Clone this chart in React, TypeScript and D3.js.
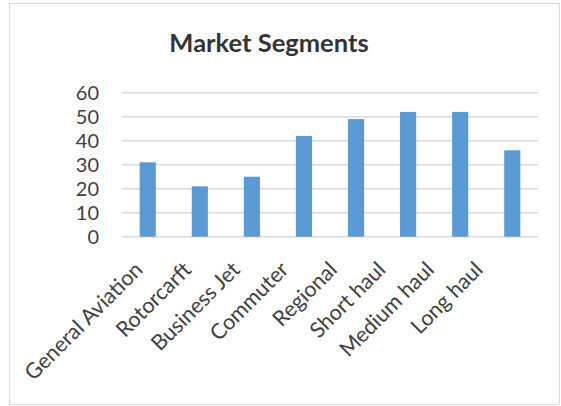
import React from "react";
import * as d3 from "d3";

const categories: string[] = [
  "General Aviation",
  "Rotorcarft",
  "Business Jet",
  "Commuter",
  "Regional",
  "Short haul",
  "Medium haul",
  "Long haul",
];
const values: number[] = [31, 21, 25, 42, 49, 52, 52, 36];
const yTicks: number[] = [0, 10, 20, 30, 40, 50, 60];
const title = "Market Segments";

const W = 561;
const H = 406;
const plot = { left: 121.7, right: 538.3, top: 92.7, bottom: 236.7 };
const FONT = "Lato, 'Open Sans', sans-serif";

export default function App() {
  const x = d3
    .scaleBand<string>()
    .domain(categories)
    .range([plot.left, plot.right])
    .paddingInner(0.69)
    .paddingOuter(0.345);
  const y = d3.scaleLinear().domain([0, 60]).range([plot.bottom, plot.top]);
  const labelX = d3.scalePoint<string>().domain(categories).range([142, 482]);

  return (
    <svg
      width={W}
      height={H}
      style={{ position: "fixed", left: 0, top: 0, background: "#fff" }}
      fontFamily={FONT}
    >
      <rect x={9.5} y={3.5} width={550} height={401} fill="#fff" stroke="#D9D9D9" strokeWidth={1} />
      <text x={269} y={52} textAnchor="middle" fontSize={25.5} fontWeight="bold" fill="#333333">
        {title}
      </text>
      {yTicks.map((t) => (
        <g key={t}>
          <line x1={plot.left} x2={plot.right} y1={y(t)} y2={y(t)} stroke="#D9D9D9" strokeWidth={1.5} />
          <text x={99} y={y(t)} dy="0.35em" textAnchor="end" fontSize={20} fill="#404040">
            {t}
          </text>
        </g>
      ))}
      {categories.map((c, i) => (
        <rect
          key={c}
          x={x(c)}
          y={y(values[i])}
          width={x.bandwidth()}
          height={y(0) - y(values[i])}
          fill="#5B9BD5"
        />
      ))}
      {categories.map((c) => (
        <text
          key={c}
          transform={`translate(${(labelX(c) as number) + 2},${271}) rotate(-45)`}
          textAnchor="end"
          fontSize={21.5}
          fill="#404040"
        >
          {c}
        </text>
      ))}
    </svg>
  );
}
